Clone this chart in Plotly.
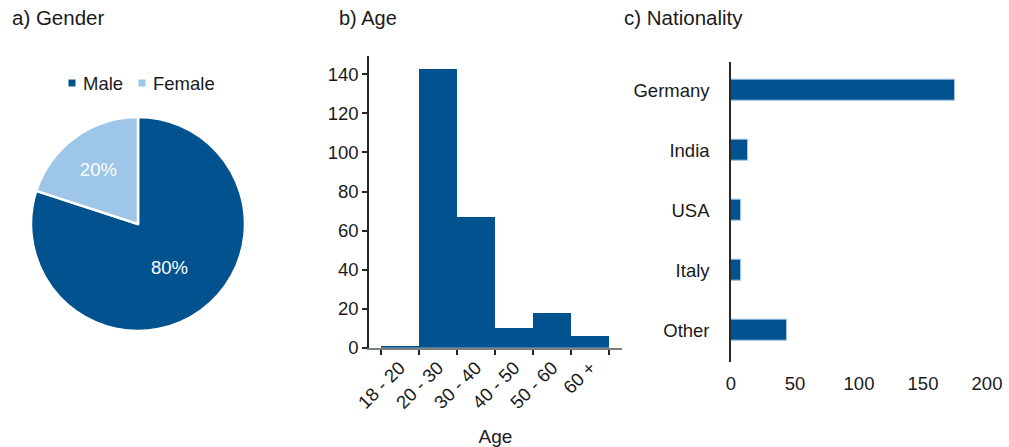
import plotly.graph_objects as go

# Survey demographics
gender_labels = ["Male", "Female"]
gender_values = [80, 20]

age_groups = ["18 - 20", "20 - 30", "30 - 40", "40 - 50", "50 - 60", "60 +"]
age_counts = [1, 143, 67, 10, 18, 6]

countries = ["Germany", "India", "USA", "Italy", "Other"]
country_counts = [175, 13, 8, 8, 44]

DARK = "#02528f"
LIGHT = "#9dc6e8"
GENDER_COLORS = [DARK, LIGHT]
AXIS = "#262626"
FONT = "Liberation Sans, Arial, sans-serif"

W, H = 1009, 447


def px_x(x):
    return x / W


def px_y(y):
    return 1 - y / H


fig = go.Figure()

fig.add_trace(go.Pie(
    labels=gender_labels,
    values=gender_values,
    marker=dict(colors=GENDER_COLORS, line=dict(color="white", width=2.5)),
    sort=False,
    direction="clockwise",
    rotation=0,
    textinfo="percent",
    textposition="inside",
    insidetextorientation="horizontal",
    textfont=dict(color="white", size=18.5, family=FONT),
    domain=dict(x=[px_x(31), px_x(245)], y=[px_y(331), px_y(117)]),
    hoverinfo="label+percent",
    showlegend=False,
))

fig.add_trace(go.Bar(
    x=age_groups,
    y=age_counts,
    marker=dict(color=DARK, line=dict(width=0)),
    width=1.0,
    xaxis="x",
    yaxis="y",
    showlegend=False,
))

fig.add_trace(go.Bar(
    y=countries,
    x=country_counts,
    orientation="h",
    marker=dict(color=DARK, line=dict(color=LIGHT, width=1)),
    width=0.35,
    xaxis="x2",
    yaxis="y2",
    showlegend=False,
))

# Compact legend for the pie: small colour squares followed by the labels
legend_shapes = []
legend_notes = []
legend_x = [72, 142]  # square centres, px
for lab, col, lx in zip(gender_labels, GENDER_COLORS, legend_x):
    legend_shapes.append(dict(
        type="rect", xref="paper", yref="paper",
        x0=px_x(lx - 3.5), x1=px_x(lx + 3.5),
        y0=px_y(86.5), y1=px_y(79.5),
        fillcolor=col, line=dict(width=0),
    ))
    legend_notes.append(dict(
        text=lab, x=px_x(lx + 8.5), y=px_y(83), xref="paper", yref="paper",
        xanchor="left", yanchor="middle", showarrow=False, font=dict(size=18.5),
    ))

titles = [
    dict(text="a) Gender", x=px_x(10), y=px_y(18), xref="paper", yref="paper",
         xanchor="left", yanchor="middle", showarrow=False, font=dict(size=20.5)),
    dict(text="b) Age", x=px_x(337), y=px_y(18), xref="paper", yref="paper",
         xanchor="left", yanchor="middle", showarrow=False, font=dict(size=20)),
    dict(text="c) Nationality", x=px_x(622), y=px_y(18), xref="paper", yref="paper",
         xanchor="left", yanchor="middle", showarrow=False, font=dict(size=20.5)),
]

fig.update_layout(
    template="none",
    width=W,
    height=H,
    margin=dict(l=0, r=0, t=0, b=0, pad=0),
    paper_bgcolor="white",
    plot_bgcolor="white",
    font=dict(family=FONT, size=19, color="#1a1a1a"),
    bargap=0,
    showlegend=False,
    xaxis=dict(
        domain=[px_x(369), px_x(622)],
        anchor="y",
        type="category",
        range=[-0.81, 5.83],
        automargin=False,
        tickson="boundaries",
        ticks="outside",
        ticklen=5,
        tickwidth=1.5,
        tickcolor=AXIS,
        tickangle=-45,
        showline=True,
        linecolor="#7f7f7f",
        linewidth=2,
        showgrid=False,
        zeroline=False,
        tickfont=dict(size=18.5),
        title=dict(text="Age", font=dict(size=19), standoff=20),
    ),
    yaxis=dict(
        domain=[px_y(347.7), px_y(56)],
        anchor="x",
        range=[0, 149.4],
        automargin=False,
        tickvals=[0, 20, 40, 60, 80, 100, 120, 140],
        ticks="outside",
        ticklen=5,
        tickwidth=1.5,
        tickcolor=AXIS,
        showline=True,
        linecolor=AXIS,
        linewidth=1.5,
        showgrid=False,
        zeroline=False,
        tickfont=dict(size=18.5),
    ),
    xaxis2=dict(
        domain=[px_x(731), px_x(987)],
        anchor="y2",
        range=[0, 200],
        automargin=False,
        tickvals=[0, 50, 100, 150, 200],
        ticks="",
        showline=False,
        showgrid=False,
        zeroline=False,
        ticklabelstandoff=9,
        tickfont=dict(size=18.5),
    ),
    yaxis2=dict(
        domain=[px_y(361.7), px_y(61.7)],
        anchor="x2",
        type="category",
        range=[4.52, -0.48],
        automargin=False,
        ticks="",
        showline=True,
        linecolor=AXIS,
        linewidth=1.5,
        showgrid=False,
        zeroline=False,
        ticklabelstandoff=16,
        tickfont=dict(size=18.5),
    ),
    shapes=legend_shapes,
    annotations=titles + legend_notes,
)

fig.write_html("out.html")
